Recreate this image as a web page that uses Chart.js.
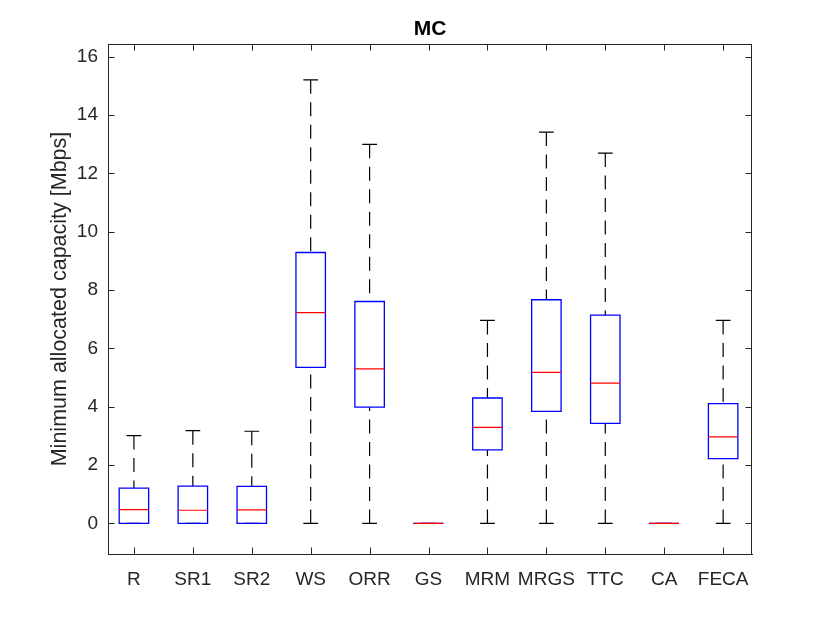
<!DOCTYPE html>
<html><head><meta charset="utf-8">
<script src="https://cdn.jsdelivr.net/npm/chart.js@4.4.0/dist/chart.umd.min.js"></script>
<style>html,body{margin:0;padding:0;background:#fff;} canvas{display:block;}</style>
</head><body>
<canvas id="c" width="830" height="623"></canvas>
<script>
// ---- data ----
const categories  = ['R','SR1','SR2','WS','ORR','GS','MRM','MRGS','TTC','CA','FECA'];
const whiskerLow  = [0, 0, 0, 0, 0, 0, 0, 0, 0, 0, 0];
const q1          = [0, 0, 0, 5.35, 3.99, 0, 2.52, 3.84, 3.43, 0, 2.22];
const median      = [0.47, 0.45, 0.46, 7.23, 5.30, 0, 3.29, 5.18, 4.81, 0, 2.97];
const q3          = [1.21, 1.28, 1.27, 9.29, 7.61, 0, 4.30, 7.67, 7.14, 0, 4.11];
const whiskerHigh = [3.01, 3.18, 3.16, 15.21, 13.00, 0, 6.96, 13.42, 12.70, 0, 6.96];
const yTickValues = [0, 2, 4, 6, 8, 10, 12, 14, 16];
const xTickValues = categories.map((c, i) => i + 1);

// ---- styling ----
const BOX_HALF = 0.25, CAP_HALF = 0.125;
const AXIS_COLOR = '#262626';
const FONT = "'Liberation Sans', Arial, Helvetica, sans-serif";

const whiskerPts = [], capPts = [], boxPts = [], medPts = [];
categories.forEach((c, i) => {
  const x = xTickValues[i];
  whiskerPts.push({x, y: whiskerHigh[i]}, {x, y: q3[i]}, {x, y: null},
                  {x, y: whiskerLow[i]}, {x, y: q1[i]}, {x, y: null});
  capPts.push({x: x - CAP_HALF, y: whiskerHigh[i]}, {x: x + CAP_HALF, y: whiskerHigh[i]}, {x, y: null},
              {x: x - CAP_HALF, y: whiskerLow[i]}, {x: x + CAP_HALF, y: whiskerLow[i]}, {x, y: null});
  boxPts.push({x: x - BOX_HALF, y: q1[i]}, {x: x + BOX_HALF, y: q1[i]}, {x: x + BOX_HALF, y: q3[i]},
              {x: x - BOX_HALF, y: q3[i]}, {x: x - BOX_HALF, y: q1[i]}, {x, y: null});
  medPts.push({x: x - BOX_HALF, y: median[i]}, {x: x + BOX_HALF, y: median[i]}, {x, y: null});
});

const TICK_LEN = 6.5;
const frameAndTicks = {
  id: 'frameAndTicks',
  afterDatasetsDraw(chart) {
    const {ctx, chartArea: a, scales: {x, y}} = chart;
    ctx.save();
    ctx.strokeStyle = AXIS_COLOR;
    ctx.lineWidth = 1;
    ctx.beginPath();
    ctx.moveTo(a.left, Math.round(a.top) + 0.5); ctx.lineTo(a.right, Math.round(a.top) + 0.5);
    ctx.moveTo(Math.round(a.right) - 0.5, a.top); ctx.lineTo(Math.round(a.right) - 0.5, a.bottom);
    x.ticks.forEach(t => {
      const px = Math.round(x.getPixelForValue(t.value)) + 0.5;
      ctx.moveTo(px, a.bottom); ctx.lineTo(px, a.bottom - TICK_LEN);
      ctx.moveTo(px, a.top); ctx.lineTo(px, a.top + TICK_LEN);
    });
    y.ticks.forEach(t => {
      const py = Math.round(y.getPixelForValue(t.value)) + 0.5;
      ctx.moveTo(a.left, py); ctx.lineTo(a.left + TICK_LEN, py);
      ctx.moveTo(a.right, py); ctx.lineTo(a.right - TICK_LEN, py);
    });
    ctx.stroke();
    ctx.restore();
  }
};

Chart.defaults.color = AXIS_COLOR;
new Chart(document.getElementById('c'), {
  type: 'scatter',
  data: {
    datasets: [
      {label: 'median', data: medPts, showLine: true, borderColor: '#ff0000', borderWidth: 1.2,
       pointRadius: 0, order: 0, borderCapStyle: 'butt'},
      {label: 'box', data: boxPts, showLine: true, borderColor: '#0000ff', borderWidth: 1.3,
       pointRadius: 0, order: 1, borderCapStyle: 'square', borderJoinStyle: 'miter'},
      {label: 'caps', data: capPts, showLine: true, borderColor: '#000000', borderWidth: 1.2,
       pointRadius: 0, order: 2},
      {label: 'whiskers', data: whiskerPts, showLine: true, borderColor: '#000000', borderWidth: 1.2,
       borderDash: [14, 8.5], pointRadius: 0, order: 3}
    ]
  },
  options: {
    responsive: false,
    animation: false,
    devicePixelRatio: 1,
    layout: {padding: {left: 0, right: 78, top: 0, bottom: 0}},
    plugins: {
      legend: {display: false},
      tooltip: {enabled: false},
      title: {display: true, text: 'MC', color: '#000000', fullSize: false,
              font: {family: FONT, size: 21, weight: 'bold', lineHeight: 1.2},
              padding: {top: 16.4, bottom: 2.4}}
    },
    scales: {
      x: {
        type: 'linear', min: 0.56, max: 11.49,
        grid: {display: false, drawTicks: false},
        border: {display: true, color: AXIS_COLOR, width: 1},
        afterBuildTicks: s => { s.ticks = xTickValues.map(v => ({value: v})); },
        afterFit: s => { s.height = 69; },
        ticks: {padding: 14, maxRotation: 0, autoSkip: false, color: AXIS_COLOR,
                font: {family: FONT, size: 19},
                callback: v => categories[v - 1]}
      },
      y: {
        type: 'linear', min: -1.05, max: 16.44,
        grid: {display: false, drawTicks: false},
        border: {display: true, color: AXIS_COLOR, width: 1},
        afterBuildTicks: s => { s.ticks = yTickValues.map(v => ({value: v})); },
        afterFit: s => { s.width = 108; },
        ticks: {padding: 10, color: AXIS_COLOR, font: {family: FONT, size: 19},
                callback: v => String(v)},
        title: {display: true, text: 'Minimum allocated capacity [Mbps]', color: AXIS_COLOR,
                font: {family: FONT, size: 21.5, lineHeight: 1.2},
                padding: {top: 47, bottom: 0}}
      }
    }
  },
  plugins: [frameAndTicks]
});
</script>
</body></html>
